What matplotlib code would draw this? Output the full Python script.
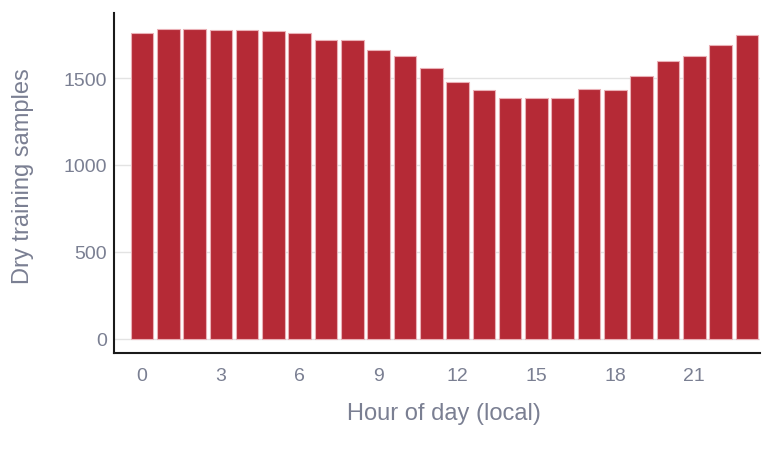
import matplotlib
matplotlib.use('Agg')
import matplotlib.pyplot as plt

hours = list(range(24))
samples = [1761, 1782, 1782, 1778, 1776, 1769, 1761, 1717, 1717, 1659, 1625, 1559,
           1479, 1433, 1383, 1383, 1383, 1437, 1429, 1510, 1598, 1628, 1690, 1747]
xticks = [0, 3, 6, 9, 12, 15, 18, 21]
yticks = [0, 500, 1000, 1500]

plt.rcParams['font.family'] = ['Liberation Sans', 'DejaVu Sans']
txt = '#7a7f92'

fig = plt.figure(figsize=(7.72, 4.6), dpi=100)
ax = fig.add_axes([0.1477, 0.2304, 0.8368, 0.7392])

ax.bar(hours, samples, width=0.86, color='#b52a36', edgecolor='#eab0b6', linewidth=0.8, zorder=2)

ax.set_xlim(-1.06, 23.5)
ax.set_ylim(-82, 1874)
ax.set_xticks(xticks)
ax.set_yticks(yticks)
ax.yaxis.grid(True, color='#e3e3e3', linewidth=1, zorder=0)
ax.set_axisbelow(True)

for s in ['top', 'right']:
    ax.spines[s].set_visible(False)
for s in ['left', 'bottom']:
    ax.spines[s].set_linewidth(1.5)
    ax.spines[s].set_color('#1a1a1a')

ax.tick_params(axis='both', length=0, labelsize=14, labelcolor=txt)
ax.tick_params(axis='x', pad=10)
ax.tick_params(axis='y', pad=5)

ax.set_xlabel('Hour of day (local)', fontsize=17, color=txt, labelpad=13)
ax.set_ylabel('Dry training samples', fontsize=17, color=txt, labelpad=21)
ax.xaxis.label.set_x(0.511)
ax.yaxis.label.set_y(0.524)

fig.savefig('out.png', dpi=100)
